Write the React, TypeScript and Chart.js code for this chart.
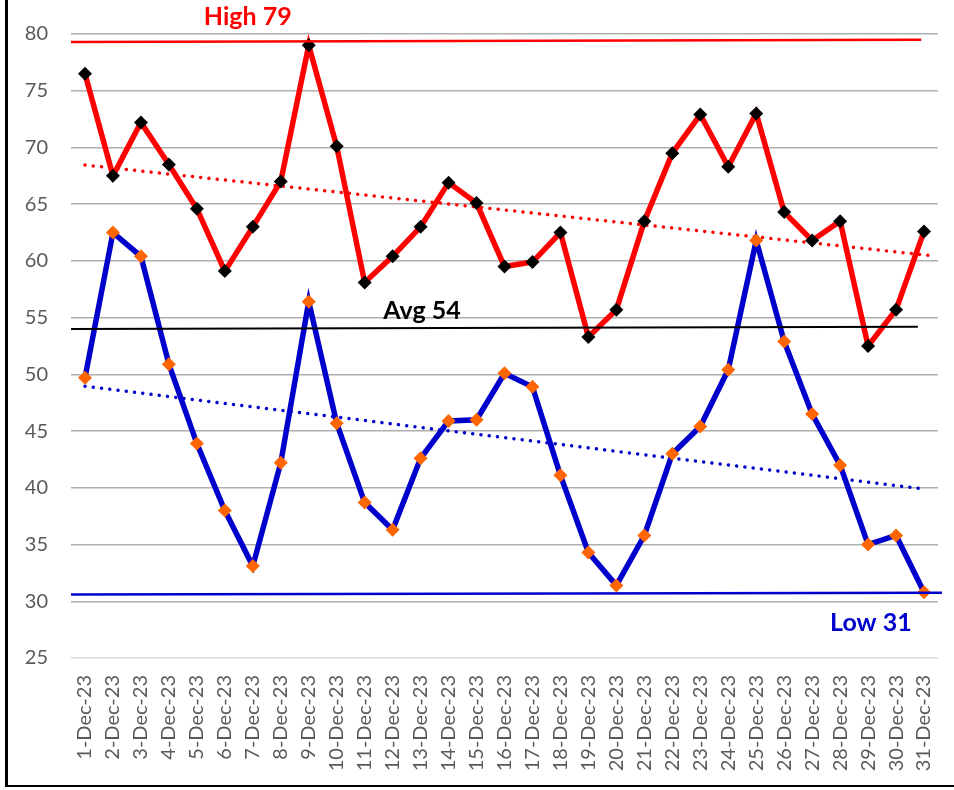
import React, { useEffect, useRef } from "react";
import { Chart, registerables } from "chart.js";

Chart.register(...registerables);

const labels = [
  "1-Dec-23", "2-Dec-23", "3-Dec-23", "4-Dec-23", "5-Dec-23", "6-Dec-23", "7-Dec-23", "8-Dec-23",
  "9-Dec-23", "10-Dec-23", "11-Dec-23", "12-Dec-23", "13-Dec-23", "14-Dec-23", "15-Dec-23", "16-Dec-23",
  "17-Dec-23", "18-Dec-23", "19-Dec-23", "20-Dec-23", "21-Dec-23", "22-Dec-23", "23-Dec-23", "24-Dec-23",
  "25-Dec-23", "26-Dec-23", "27-Dec-23", "28-Dec-23", "29-Dec-23", "30-Dec-23", "31-Dec-23",
];

const highs = [
  76.5, 67.5, 72.2, 68.5, 64.6, 59.1, 63.0, 67.0, 79.0, 70.1, 58.1, 60.4, 63.0, 66.9, 65.1, 59.5,
  59.9, 62.5, 53.3, 55.7, 63.5, 69.5, 72.9, 68.3, 73.0, 64.3, 61.8, 63.5, 52.5, 55.7, 62.6,
];

const lows = [
  49.7, 62.5, 60.4, 50.9, 43.9, 38.0, 33.1, 42.2, 56.4, 45.7, 38.7, 36.3, 42.6, 45.9, 46.0, 50.1,
  48.9, 41.1, 34.3, 31.4, 35.8, 43.0, 45.4, 50.4, 61.8, 52.9, 46.5, 42.0, 35.0, 35.8, 30.8,
];

// trend line endpoints [x index, value]
const highTrendX = [0, 30.3];
const highTrendY = [68.45, 60.45];
const lowTrendX = [0, 30];
const lowTrendY = [48.95, 39.9];

// reference lines
const highRefX = [-0.5, 29.9];
const highRefY = [79.3, 79.5];
const avgRefX = [-0.5, 29.78];
const avgRefY = [54.0, 54.2];
const lowRefX = [-0.5, 30.64];
const lowRefY = [30.6, 30.75];

const yTicks = [25, 30, 35, 40, 45, 50, 55, 60, 65, 70, 75, 80];

const notes = [
  { text: "High 79", x: 5.82, y: 80.8, color: "#FF0000" },
  { text: "Avg 54", x: 12.05, y: 54.88, color: "#000000" },
  { text: "Low 31", x: 28.1, y: 27.4, color: "#0000CC" },
];

const pts = (xs: number[], ys: number[]) => xs.map((x, i) => ({ x, y: ys[i] }));

const notesPlugin = {
  id: "notes",
  afterDatasetsDraw(chart: any) {
    const ctx = chart.ctx;
    const xs = chart.scales.x2;
    const ys = chart.scales.y;
    ctx.save();
    ctx.font = "bold 25px Lato";
    ctx.textAlign = "center";
    ctx.textBaseline = "alphabetic";
    notes.forEach((n) => {
      ctx.fillStyle = n.color;
      ctx.fillText(n.text, xs.getPixelForValue(n.x), ys.getPixelForValue(n.y));
    });
    ctx.restore();
  },
};

export default function App() {
  const ref = useRef<HTMLCanvasElement>(null);
  useEffect(() => {
    if (!ref.current) return;
    const chart = new Chart(ref.current, {
      type: "line",
      data: {
        labels,
        datasets: [
          {
            label: "High",
            data: highs,
            xAxisID: "x",
            borderColor: "#FF0000",
            borderWidth: 5.5,
            pointStyle: "rectRot",
            pointRadius: 7,
            pointBackgroundColor: "#000000",
            pointBorderColor: "#000000",
            pointBorderWidth: 0,
            tension: 0,
            order: 2,
          },
          {
            label: "Low",
            data: lows,
            xAxisID: "x",
            borderColor: "#0000CC",
            borderWidth: 5.5,
            pointStyle: "rectRot",
            pointRadius: 7,
            pointBackgroundColor: "#FF6600",
            pointBorderColor: "#FF6600",
            pointBorderWidth: 0,
            tension: 0,
            order: 3,
          },
          {
            label: "High trend",
            data: pts(highTrendX, highTrendY) as any,
            xAxisID: "x2",
            borderColor: "#FF0000",
            borderWidth: 3.5,
            borderDash: [0.01, 8.3],
            borderCapStyle: "round",
            pointRadius: 0,
            order: 4,
            clip: false,
          },
          {
            label: "Low trend",
            data: pts(lowTrendX, lowTrendY) as any,
            xAxisID: "x2",
            borderColor: "#0000CC",
            borderWidth: 3.5,
            borderDash: [0.01, 8.3],
            borderCapStyle: "round",
            pointRadius: 0,
            order: 5,
            clip: false,
          },
          {
            label: "High ref",
            data: pts(highRefX, highRefY) as any,
            xAxisID: "x2",
            borderColor: "#FF0000",
            borderWidth: 2.5,
            pointRadius: 0,
            order: 0,
            clip: false,
          },
          {
            label: "Avg ref",
            data: pts(avgRefX, avgRefY) as any,
            xAxisID: "x2",
            borderColor: "#000000",
            borderWidth: 2,
            pointRadius: 0,
            order: 0,
            clip: false,
          },
          {
            label: "Low ref",
            data: pts(lowRefX, lowRefY) as any,
            xAxisID: "x2",
            borderColor: "#0000CC",
            borderWidth: 2.5,
            pointRadius: 0,
            order: 0,
            clip: false,
          },
        ],
      },
      options: {
        animation: false,
        responsive: false,
        layout: { padding: { top: 34, right: 16, left: 0, bottom: 0 } },
        plugins: { legend: { display: false }, tooltip: { enabled: false } },
        scales: {
          x: {
            type: "category",
            offset: true,
            grid: { display: false, drawTicks: false },
            border: { display: false },
            ticks: {
              minRotation: 90,
              maxRotation: 90,
              autoSkip: false,
              padding: 17,
              color: "#595959",
              font: { family: "Lato", size: 20 },
            },
            afterFit: (s: any) => {
              s.height = 132;
              s.paddingLeft = 0;
              s.paddingRight = 0;
            },
          },
          x2: {
            type: "linear",
            display: false,
            min: -0.5,
            max: 30.5,
            offset: false,
          },
          y: {
            min: 25,
            max: 80,
            afterBuildTicks: (s: any) => {
              s.ticks = yTicks.map((v) => ({ value: v }));
            },
            grid: {
              drawTicks: false,
              lineWidth: 1.5,
              color: (c: any) => (c.tick && c.tick.value === 25 ? "#D9D9D9" : "#AFAFAF"),
            },
            border: { display: false },
            ticks: {
              padding: 23,
              color: "#595959",
              font: { family: "Lato", size: 20 },
            },
            afterFit: (s: any) => {
              s.width = 71;
              s.paddingTop = 0;
              s.paddingBottom = 0;
            },
          },
        },
      },
      plugins: [notesPlugin],
    });
    return () => chart.destroy();
  }, []);

  return (
    <div style={{ position: "fixed", left: 0, top: 0, width: 954, height: 790, background: "#fff", overflow: "hidden" }}>
      <canvas ref={ref} width={954} height={790} style={{ position: "absolute", left: 0, top: 0, width: 954, height: 790 }} />
      <div
        style={{
          position: "absolute",
          left: 5,
          top: -10,
          width: 960,
          height: 797,
          borderLeft: "3px solid #000",
          borderBottom: "2px solid #000",
          boxSizing: "border-box",
          pointerEvents: "none",
        }}
      />
    </div>
  );
}
